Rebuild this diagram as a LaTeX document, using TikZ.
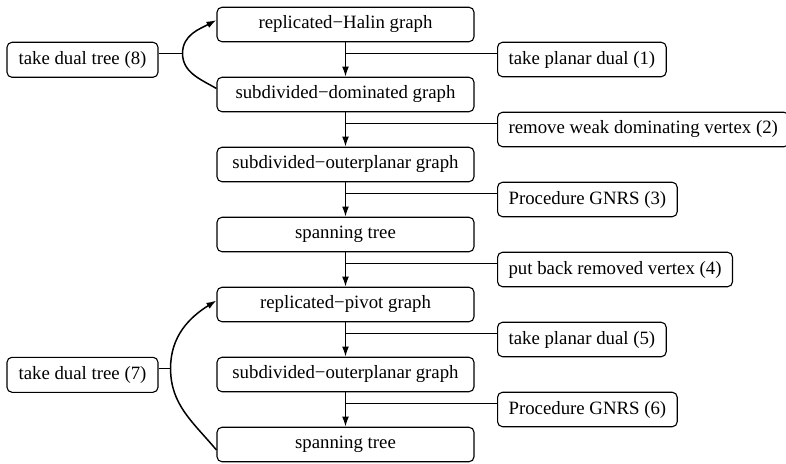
\documentclass[tikz,border=0pt]{standalone}
\usepackage{fontspec}
\setmainfont{Liberation Serif}
\usetikzlibrary{arrows.meta,calc}
\begin{document}
\begin{tikzpicture}[x=0.5pt,y=-0.5pt,
  every node/.style={font=\fontsize{9.4pt}{11pt}\selectfont},
  mainbox/.style={draw,line width=0.55pt,rounded corners=2.5pt,minimum width=128.5pt,minimum height=17.25pt,inner sep=0pt},
  sidebox/.style={draw,line width=0.55pt,rounded corners=2.5pt,minimum height=17.25pt,inner xsep=5.5pt,inner ysep=0pt,anchor=west},
  leftbox/.style={draw,line width=0.55pt,rounded corners=2.5pt,minimum width=75.5pt,minimum height=17.5pt,inner sep=0pt},
  flow/.style={line width=0.75pt,-{Latex[length=5pt,width=3.4pt]}},
  conn/.style={line width=0.75pt}]
\useasboundingbox (0,0) rectangle (786,464);
\node[mainbox] (b1) at (345.5,24.5) {replicated−Halin graph};
\node[mainbox] (b2) at (345.5,94.5) {subdivided−dominated graph};
\node[mainbox] (b3) at (345.5,164.5) {subdivided−outerplanar graph};
\node[mainbox] (b4) at (345.5,234.5) {spanning tree};
\node[mainbox] (b5) at (345.5,304.5) {replicated−pivot graph};
\node[mainbox] (b6) at (345.5,374.5) {subdivided−outerplanar graph};
\node[mainbox] (b7) at (345.5,444.5) {spanning tree};
\node[sidebox] (s1) at (497,59.5) {take planar dual (1)};
\node[sidebox] (s2) at (497,129.5) {remove weak dominating vertex (2)};
\node[sidebox] (s3) at (497,199.5) {Procedure GNRS (3)};
\node[sidebox] (s4) at (497,269.5) {put back removed vertex (4)};
\node[sidebox] (s5) at (497,339.5) {take planar dual (5)};
\node[sidebox] (s6) at (497,409.5) {Procedure GNRS (6)};
\node[leftbox] (l8) at (82.5,59.8) {take dual tree (8)};
\node[leftbox] (l7) at (82.5,374.8) {take dual tree (7)};
\foreach \a/\b/\s in {b1/b2/s1,b2/b3/s2,b3/b4/s3,b4/b5/s4,b5/b6/s5,b6/b7/s6}{
  \draw[flow] (\a.south) -- (\b.north);
  \draw[conn] ([yshift=3.1pt]\s.west) -- ([yshift=3.1pt]\s.west -| \a.south);
}
\coordinate (j8) at ([shift={(12pt,3.25pt)}]l8.east);
\draw[conn] ([yshift=3.25pt]l8.east) -- (j8);
\draw[flow] (j8) to[out=90,in=208] ([yshift=2.2pt]b1.west);
\draw[conn] (j8) to[out=-90,in=150] ([yshift=3pt]b2.west);
\coordinate (j7) at ([shift={(6pt,3.25pt)}]l7.east);
\draw[conn] ([yshift=3.25pt]l7.east) -- (j7);
\draw[flow] (j7) to[out=90,in=212] ([yshift=2pt]b5.west);
\draw[conn] (j7) to[out=-90,in=130] ([yshift=-2.75pt]b7.west);
\end{tikzpicture}
\end{document}
